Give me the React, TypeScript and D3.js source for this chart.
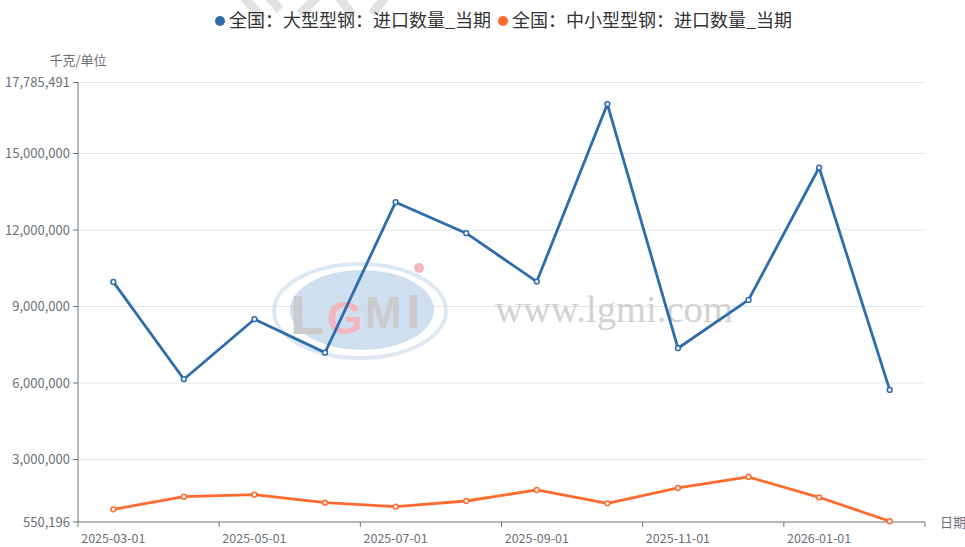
import React from "react";
import * as d3 from "d3";

const categories = [
  "2025-03-01", "2025-04-01", "2025-05-01", "2025-06-01", "2025-07-01", "2025-08-01",
  "2025-09-01", "2025-10-01", "2025-11-01", "2025-12-01", "2026-01-01", "2026-02-01",
];
const largeSteel = [
  9966000, 6150000, 8503000, 7192000, 13093000, 11877000,
  9978000, 16938563, 7365000, 9260000, 14451000, 5729000,
];
const smallSteel = [
  1048000, 1543000, 1621000, 1307000, 1150000, 1374000,
  1806000, 1284000, 1884000, 2316000, 1519000, 579154,
];
const seriesNames = ["全国：大型型钢：进口数量_当期", "全国：中小型型钢：进口数量_当期"];
const seriesColors = ["#2e6cab", "#ff6b2e"];
const yMin = 550196;
const yMax = 17785491;
const yTicks = [550196, 3000000, 6000000, 9000000, 12000000, 15000000, 17785491];

const W = 965;
const H = 547;
const left = 78;
const right = 925;
const top = 82.5;
const bottom = 522;
const FONT = "'Noto Sans CJK SC', 'Noto Sans', sans-serif";

export default function App() {
  const x = d3.scaleBand<string>().domain(categories).range([left, right]).padding(0);
  const y = d3.scaleLinear().domain([yMin, yMax]).range([bottom, top]);
  const cx = (c: string) => (x(c) as number) + x.bandwidth() / 2;
  const fmt = d3.format(",");
  const line = d3
    .line<number>()
    .x((_, i) => cx(categories[i]))
    .y((d) => y(d));
  const allSeries = [largeSteel, smallSteel];
  const tickCats = categories.filter((_, i) => i % 2 === 0);
  const logoFont = "'Liberation Sans', sans-serif";

  return (
    <svg
      width={W}
      height={H}
      style={{ position: "absolute", left: 0, top: 0, background: "#fff" }}
      fontFamily={FONT}
    >
      {/* top partial watermark */}
      <g stroke="#e2e2e2" strokeWidth={9} strokeLinecap="butt">
        <line x1={243} y1={-4} x2={262} y2={18} />
        <line x1={268} y1={-4} x2={280} y2={10} />
        <line x1={300} y1={14} x2={318} y2={-4} />
        <line x1={338} y1={-4} x2={352} y2={14} />
        <line x1={372} y1={14} x2={386} y2={-4} />
      </g>

      {/* grid lines */}
      {yTicks.slice(1).map((t) => (
        <line key={t} x1={left} x2={right} y1={y(t)} y2={y(t)} stroke="#e0e6f1" strokeWidth={1} />
      ))}

      {/* watermark logo */}
      <g opacity={0.85}>
        <ellipse cx={360} cy={311} rx={86} ry={47} fill="none" stroke="#d6e4f2" strokeWidth={4} />
        <ellipse cx={362} cy={310} rx={72} ry={40} fill="#c6dbee" />
        <text x={290} y={334} fontSize={56} fontWeight={700} fontFamily={logoFont} fill="#c2c2c2">L</text>
        <text x={327} y={334} fontSize={46} fontWeight={700} fontFamily={logoFont} fill="#f3aab3">G</text>
        <text x={365} y={328} fontSize={44} fontWeight={700} fontFamily={logoFont} fill="#c2c2c2">M</text>
        <text x={407} y={328} fontSize={48} fontWeight={700} fontFamily={logoFont} fill="#c2c2c2">I</text>
        <circle cx={419} cy={268} r={5} fill="#f4aab4" />
        <text
          x={495}
          y={322}
          fontSize={38}
          textLength={238}
          lengthAdjust="spacingAndGlyphs"
          fontFamily="'Liberation Serif', 'DejaVu Serif', serif"
          fill="#cbcbcb"
        >
          www.lgmi.com
        </text>
      </g>

      {/* y axis */}
      <line x1={left} x2={left} y1={top} y2={bottom} stroke="#6e7079" strokeWidth={1} />
      {yTicks.map((t) => (
        <g key={"yt" + t}>
          <line x1={left - 5} x2={left} y1={y(t)} y2={y(t)} stroke="#6e7079" />
          <text x={left - 8} y={y(t)} dy="0.35em" textAnchor="end" fontSize={13} fill="#6e7079">
            {fmt(t)}
          </text>
        </g>
      ))}
      <text x={78} y={65} textAnchor="middle" fontSize={13} fill="#6e7079">
        千克/单位
      </text>

      {/* x axis */}
      <line x1={left} x2={right} y1={bottom} y2={bottom} stroke="#6e7079" strokeWidth={1} />
      {tickCats.map((c) => (
        <line key={"xt" + c} x1={x(c) as number} x2={x(c) as number} y1={bottom} y2={bottom + 5} stroke="#6e7079" />
      ))}
      <line x1={right} x2={right} y1={bottom} y2={bottom + 5} stroke="#6e7079" />
      {tickCats.map((c) => (
        <text key={"xl" + c} x={cx(c)} y={bottom + 17} dy="0.35em" textAnchor="middle" fontSize={12.5} fill="#6e7079">
          {c}
        </text>
      ))}
      <text x={940} y={bottom} dy="0.35em" fontSize={13} fill="#6e7079">
        日期
      </text>

      {/* series */}
      {allSeries.map((s, si) => (
        <g key={"s" + si}>
          <path d={line(s) || ""} fill="none" stroke={seriesColors[si]} strokeWidth={2.8} strokeLinejoin="round" />
          {s.map((v, i) => (
            <circle
              key={i}
              cx={cx(categories[i])}
              cy={y(v)}
              r={2.4}
              fill="#fff"
              stroke={seriesColors[si]}
              strokeWidth={1.5}
            />
          ))}
        </g>
      ))}

      {/* legend */}
      <g fontSize={18} fill="#333">
        <circle cx={220} cy={21} r={5} fill={seriesColors[0]} />
        <text x={229} y={21} dy="0.35em">{seriesNames[0]}</text>
        <circle cx={503} cy={21} r={5} fill={seriesColors[1]} />
        <text x={512} y={21} dy="0.35em">{seriesNames[1]}</text>
      </g>
    </svg>
  );
}
